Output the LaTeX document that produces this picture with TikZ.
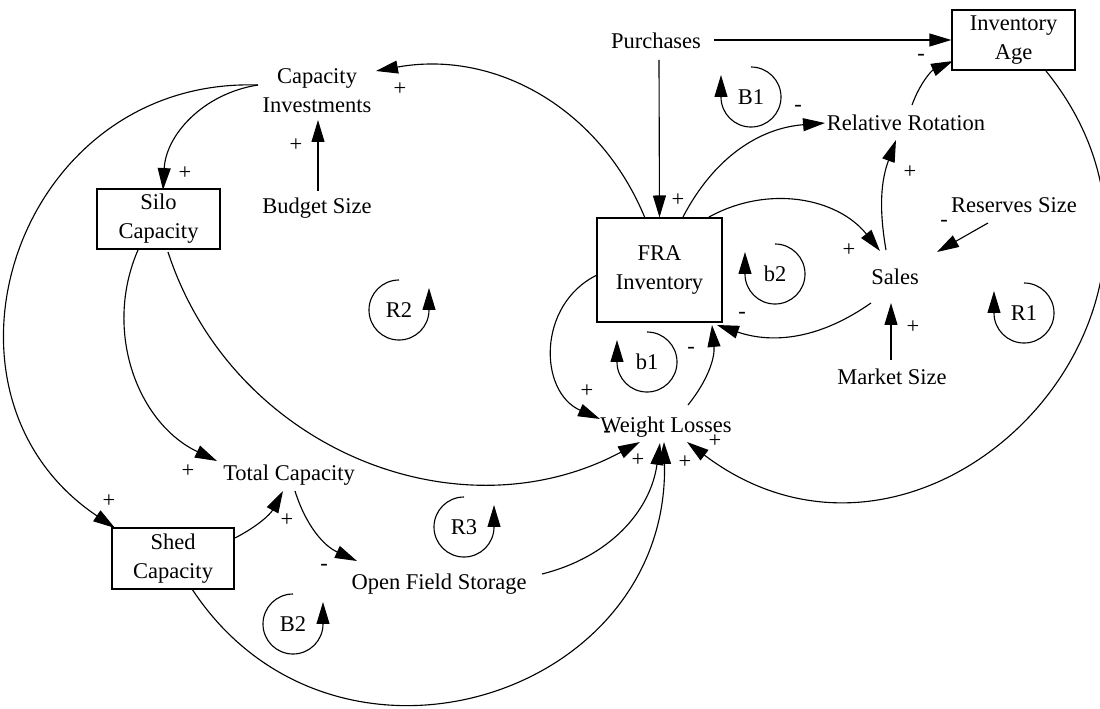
\documentclass[tikz,border=0pt]{standalone}
\usepackage{fontspec}
\setmainfont{Liberation Serif}
\usetikzlibrary{arrows.meta,calc}

\tikzset{
	var/.style={inner sep=0pt,align=center,font=\fontsize{16}{20.5}\selectfont},
	stock/.style={var,draw,line width=0.8pt},
	cause/.style={line width=0.8pt,-{Triangle[length=15.6pt,width=9.2pt]}},
	pol/.style={inner sep=0pt,font=\fontsize{16}{20.5}\selectfont}
}

\begin{document}
\begin{tikzpicture}[x=0.025cm,y=-0.025cm]
	\useasboundingbox (0,0) rectangle (1100,709);
	% draw variables
	\node[var] (capinv) at (317,91) {Capacity\\Investments};
	\node[var] (budget) at (317,208) {Budget Size};
	\node[stock,minimum width=3.075cm,minimum height=1.5cm] (silo) at (158.5,219) {Silo\\Capacity};
	\node[var] (purch) at (656,41) {Purchases};
	\node[stock,minimum width=3.075cm,minimum height=1.5cm] (invage) at (1013.5,40) {Inventory\\Age};
	\node[var] (relrot) at (906,123) {Relative Rotation};
	\node[stock,minimum width=3.125cm,minimum height=2.6cm] (fra) at (659.5,270) {FRA\\Inventory};
	\node[var] (reserves) at (1014,205) {Reserves Size};
	\node[var] (sales) at (895,277) {Sales};
	\node[var] (market) at (892,377) {Market Size};
	\node[var] (wl) at (666,427) {Weight Losses};
	\node[var] (totcap) at (289,475) {Total Capacity};
	\node[stock,minimum width=3.05cm,minimum height=1.525cm] (shed) at (173,558.5) {Shed\\Capacity};
	\node[var] (ofs) at (439,584) {Open Field Storage};
	% draw links
	\draw[cause] ($(fra)+(-14.5,-52)$) to[bend right=39] ($(capinv)+(59,-20)$);
	\draw[cause] ($(capinv)+(-59,-6)$) to[bend right=39] ($(silo)+(4.5,-29)$);
	\draw[cause] ($(capinv)+(-59,-6)$) to[bend right=74,looseness=1.33] ($(shed)+(-58,-30.5)$);
	\draw[cause] ($(budget)+(1,-17)$) -- ($(capinv)+(1,29)$);
	\draw[cause] ($(silo)+(-20.5,31)$) to[bend right=44] ($(totcap)+(-72,-14)$);
	\draw[cause] ($(silo)+(9.5,33)$) to[bend right=50,looseness=1.04] ($(wl)+(-26,15)$);
	\draw[cause] ($(shed)+(62,-20.5)$) to[bend right=17] ($(totcap)+(-6,16)$);
	\draw[cause] ($(totcap)+(6,16)$) to[bend right=24] ($(ofs)+(-82,-23)$);
	\draw[cause] ($(shed)+(19,30.5)$) to[bend right=74,looseness=1.33] ($(wl)+(-2,15)$);
	\draw[cause] ($(ofs)+(103,-10)$) to[bend right=34] ($(wl)+(-6,16)$);
	\draw[cause] ($(purch)+(58,-1)$) -- (invage.west);
	\draw[cause] ($(purch)+(3,19)$) -- (fra.north);
	\draw[cause] ($(fra)+(23.5,-53)$) to[bend left=29] ($(relrot)+(-81,0)$);
	\draw[cause] ($(relrot)+(6,-18)$) to[bend left=23] ($(invage)+(-60.5,21)$);
	\draw[cause] ($(sales)+(-9,-27)$) to[bend left=15] ($(relrot)+(-10,17)$);
	\draw[cause] ($(fra)+(49.5,-53)$) to[bend left=40] ($(sales)+(-15,-26)$);
	\draw[cause] ($(sales)+(-24,26)$) to[bend left=27] ($(fra)+(57.5,55)$);
	\draw[cause] ($(reserves)+(-26,18)$) -- ($(sales)+(42,-25)$);
	\draw[cause] ($(market)+(-1,-17)$) -- ($(sales)+(-4,26)$);
	\draw[cause] ($(invage)+(32.5,31)$) to[bend left=83,looseness=1.5] ($(wl)+(21,15)$);
	\draw[cause] ($(fra)+(-62.5,5)$) to[bend right=65,looseness=1.19] ($(wl)+(-66,-8)$);
	\draw[cause] ($(wl)+(22,-22)$) to[bend right=22] ($(fra)+(52.5,55)$);
	% draw polarities
	\foreach \sx/\sy/\sg [count=\i] in {400/89/+,185/173/+,296/145/+,109/501/+,188/471/+,287/520/+,324/567/-,607/434/-,638/460/+,685/462/+,715/441/+,587/391/+,691/350/-,742/315/-,678/200/+,798/108/-,921/57/-,910/172/+,849/250/+,944/223/-,913/327/+}
	\node[pol] (pol\i) at (\sx,\sy) {\sg};
	% draw loops (arrow on the left)
	\foreach \lx/\ly/\lt in {751/97/B1,775/274/b2,647/362/b1,1024/313/R1}
	{
		\node[var] (loop\lt) at (\lx,\ly) {\lt};
		\draw[cause] ($(loop\lt)+(0,-30)$) arc[start angle=90,end angle=-180,radius=0.75cm] -- ++(0,-22);
	}
	% draw loops (arrow on the right)
	\foreach \lx/\ly/\lt in {399/310/R2,464/527/R3,293/624/B2}
	{
		\node[var] (loop\lt) at (\lx,\ly) {\lt};
		\draw[cause] ($(loop\lt)+(0,-30)$) arc[start angle=90,end angle=360,radius=0.75cm] -- ++(0,-22);
	}
\end{tikzpicture}
\end{document}
